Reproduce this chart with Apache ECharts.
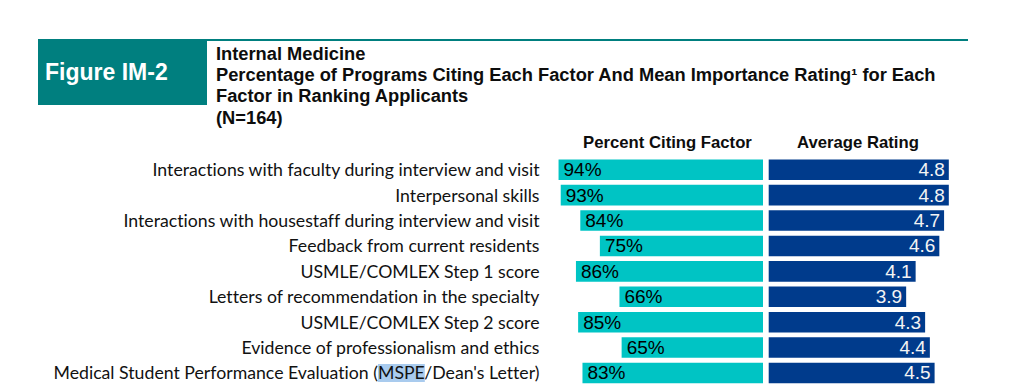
<!DOCTYPE html>
<html><head><meta charset="utf-8">
<script src="https://cdn.jsdelivr.net/npm/echarts@6/dist/echarts.min.js"></script>
<style>html,body{margin:0;padding:0;background:#fff}#c{width:1016px;height:388px}
#c text{font-variant-ligatures:none !important;font-feature-settings:"liga" 0,"clig" 0,"dlig" 0 !important}</style>
</head><body><div id="c"></div><script>
const categories = [
  'Interactions with faculty during interview and visit',
  'Interpersonal skills',
  'Interactions with housestaff during interview and visit',
  'Feedback from current residents',
  'USMLE/COMLEX Step 1 score',
  'Letters of recommendation in the specialty',
  'USMLE/COMLEX Step 2 score',
  'Evidence of professionalism and ethics',
  "Medical Student Performance Evaluation (MSPE/Dean's Letter)"
];
const percentCiting = [94, 93, 84, 75, 86, 66, 85, 65, 83];
const averageRating = [4.8, 4.8, 4.7, 4.6, 4.1, 3.9, 4.3, 4.4, 4.5];
const figureLabel = 'Figure IM-2';
const titleLines = [
  'Internal Medicine',
  'Percentage of Programs Citing Each Factor And Mean Importance Rating\u00b9 for Each',
  'Factor in Ranking Applicants',
  '(N=164)'
];
const columnHeaders = ['Percent Citing Factor', 'Average Rating'];

const TEAL = '#007f7f', CYAN = '#00c4c4', NAVY = '#003b8c';
const boldFont = 'bold 18.3px "Liberation Sans", Arial, sans-serif';
const headFont = 'bold 16.7px "Liberation Sans", Arial, sans-serif';

const graphics = [
  { type: 'rect', shape: { x: 38, y: 39, width: 169, height: 66 }, style: { fill: TEAL } },
  { type: 'rect', shape: { x: 207, y: 39, width: 761, height: 2 }, style: { fill: TEAL } },
  { type: 'text', style: { text: figureLabel, x: 45, y: 72, fill: '#fff', font: 'bold 23px "Liberation Sans", Arial, sans-serif', verticalAlign: 'middle' } }
];
titleLines.forEach((t, i) => graphics.push({ type: 'text', style: { text: t, x: 216, y: 53 + i * 21.4, fill: '#0d0d0d', font: boldFont, verticalAlign: 'middle' } }));
graphics.push({ type: 'text', style: { text: columnHeaders[0], x: 667.5, y: 142, fill: '#0d0d0d', font: headFont, align: 'center', verticalAlign: 'middle' } });
graphics.push({ type: 'text', style: { text: columnHeaders[1], x: 858, y: 142, fill: '#0d0d0d', font: headFont, align: 'center', verticalAlign: 'middle' } });

const chart = echarts.init(document.getElementById('c'), null, { renderer: 'svg' });
chart.setOption({
  animation: false,
  graphic: graphics,
  grid: [
    { left: 545.5, top: 157, width: 217.5, height: 228.7 },
    { left: 768.7, top: 157, width: 189.6, height: 228.7 }
  ],
  xAxis: [
    { gridIndex: 0, type: 'value', min: 0, max: 100, inverse: true, show: false },
    { gridIndex: 1, type: 'value', min: 1, max: 5, show: false }
  ],
  yAxis: [
    { gridIndex: 0, type: 'category', data: categories, inverse: true,
      axisLine: { show: false, onZero: false }, axisTick: { show: false }, splitLine: { show: false },
      axisLabel: { margin: 6, color: '#111', fontSize: 17.7, fontFamily: 'Lato, sans-serif',
        formatter: v => v.replace('MSPE', '{hl|MSPE}'),
        rich: { hl: { backgroundColor: '#a9cbee', color: '#111', fontSize: 17.7, fontFamily: 'Lato, sans-serif' } } } },
    { gridIndex: 1, type: 'category', data: categories, inverse: true, show: false,
      axisLine: { onZero: false } }
  ],
  series: [
    { type: 'bar', xAxisIndex: 0, yAxisIndex: 0, data: percentCiting, barWidth: '81%',
      itemStyle: { color: CYAN },
      label: { show: true, position: 'insideLeft', distance: 5, color: '#000', fontSize: 19,
        fontFamily: '"Liberation Sans", Arial, sans-serif', formatter: p => p.value + '%' } },
    { type: 'bar', xAxisIndex: 1, yAxisIndex: 1, data: averageRating, barWidth: '81%', clip: true,
      itemStyle: { color: NAVY },
      label: { show: true, position: 'insideRight', distance: 4, color: '#f4f4f4', fontSize: 19,
        fontFamily: '"Liberation Sans", Arial, sans-serif', formatter: p => p.value.toFixed(1) } }
  ]
});
</script></body></html>
